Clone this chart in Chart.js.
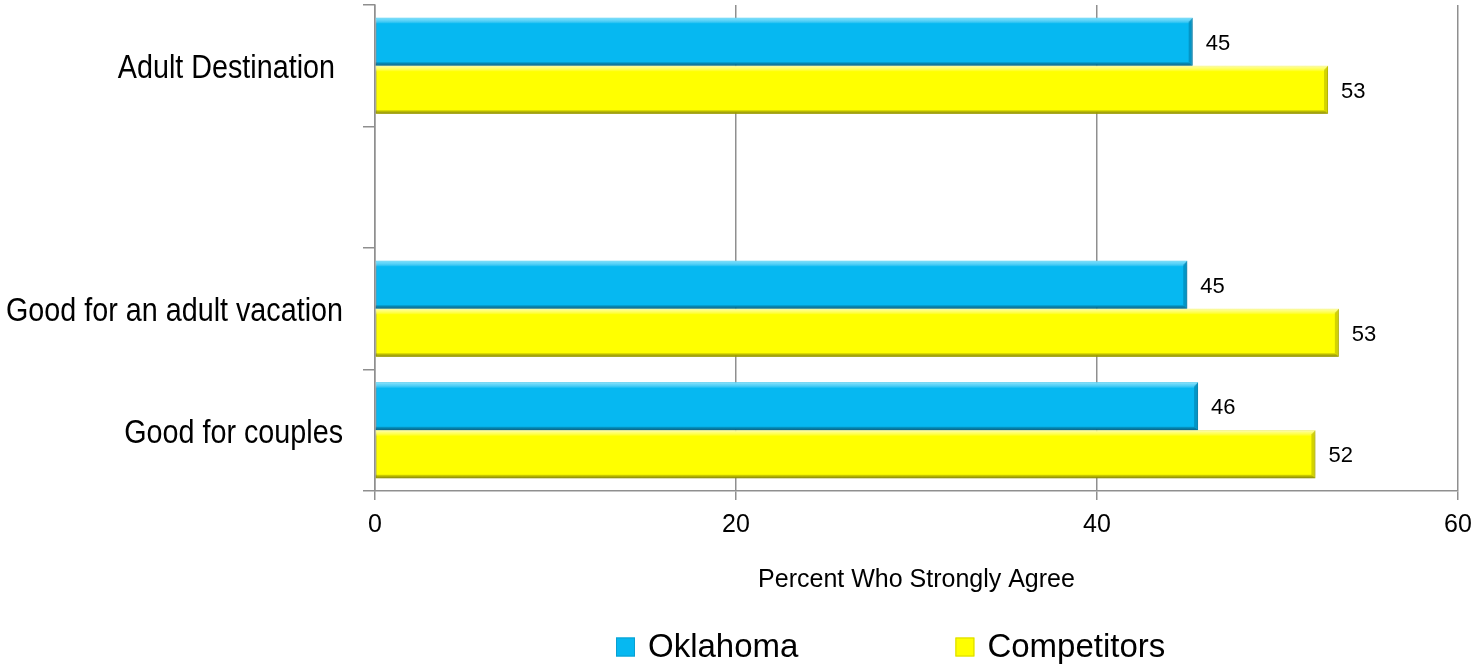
<!DOCTYPE html>
<html>
<head>
<meta charset="utf-8">
<script src="https://cdn.jsdelivr.net/npm/chart.js@4.4.1/dist/chart.umd.min.js"></script>
<style>
  html, body { margin: 0; padding: 0; background: #fff; }
  #wrap { width: 1473px; height: 665px; }
</style>
</head>
<body>
<div id="wrap"><canvas id="chart"></canvas></div>
<script>
let categories = ["Adult Destination ", "", "Good for an adult vacation", "Good for couples"];
let oklahoma = [45.3, null, 45.0, 45.6];
let competitors = [52.8, null, 53.4, 52.1];
let xTicks = [0, 20, 40, 60];

let sans = "'Liberation Sans', Arial, sans-serif";

// light / dark edge colours for the bevelled bars, one per dataset
let bevel = [
  { light: "rgba(120,225,255,0.9)", dark: "rgba(0,110,150,0.85)" },
  { light: "rgba(255,255,170,0.9)", dark: "rgba(160,160,0,0.85)" }
];

const barShadow = {
  id: "barShadow",
  beforeDatasetDraw(chart) {
    let ctx = chart.ctx;
    ctx.save();
    ctx.shadowColor = "rgba(0,0,0,0.28)";
    ctx.shadowBlur = 5;
    ctx.shadowOffsetY = 3;
  },
  afterDatasetDraw(chart) {
    chart.ctx.restore();
  }
};

const barBevel = {
  id: "barBevel",
  afterDatasetsDraw(chart) {
    let ctx = chart.ctx;
    chart.data.datasets.forEach((ds, di) => {
      let meta = chart.getDatasetMeta(di);
      meta.data.forEach((bar, i) => {
        if (ds.data[i] == null) return;
        let p = bar.getProps(["x", "y", "base", "height"], true);
        let left = p.base, right = p.x;
        let top = p.y - p.height / 2, bottom = p.y + p.height / 2;
        let e = 4;
        ctx.save();
        // top highlight
        let g = ctx.createLinearGradient(0, top, 0, top + e + 2);
        g.addColorStop(0, bevel[di].light);
        g.addColorStop(1, "rgba(255,255,255,0)");
        ctx.fillStyle = g;
        ctx.beginPath();
        ctx.moveTo(left, top);
        ctx.lineTo(right, top);
        ctx.lineTo(right - e, top + e + 2);
        ctx.lineTo(left, top + e + 2);
        ctx.fill();
        // bottom shade
        g = ctx.createLinearGradient(0, bottom - e, 0, bottom);
        g.addColorStop(0, "rgba(0,0,0,0)");
        g.addColorStop(1, bevel[di].dark);
        ctx.fillStyle = g;
        ctx.beginPath();
        ctx.moveTo(left, bottom - e);
        ctx.lineTo(right - e, bottom - e);
        ctx.lineTo(right, bottom);
        ctx.lineTo(left, bottom);
        ctx.fill();
        // right end
        ctx.fillStyle = bevel[di].dark;
        ctx.globalAlpha = 0.55;
        ctx.beginPath();
        ctx.moveTo(right - e, top + e);
        ctx.lineTo(right, top);
        ctx.lineTo(right, bottom);
        ctx.lineTo(right - e, bottom - e);
        ctx.fill();
        ctx.restore();

        // value label
        ctx.save();
        ctx.font = "22px " + sans;
        ctx.fillStyle = "#000";
        ctx.textBaseline = "middle";
        ctx.fillText(String(Math.round(ds.data[i])), right + 13, p.y + 2);
        ctx.restore();
      });
    });
  }
};

// category names in a condensed face, placed on the y scale's tick positions
const narrowLabels = {
  id: "narrowLabels",
  afterDraw(chart) {
    let ctx = chart.ctx;
    let y = chart.scales.y;
    ctx.save();
    ctx.font = "34px " + sans;
    ctx.fillStyle = "#000";
    ctx.textAlign = "right";
    ctx.textBaseline = "middle";
    chart.data.labels.forEach((lab, i) => {
      if (!lab) return;
      ctx.save();
      ctx.translate(y.right - 32, y.getPixelForTick(i) + 3);
      ctx.scale(0.845, 1);
      ctx.fillText(lab, 0, 0);
      ctx.restore();
    });
    ctx.restore();
  }
};

// legend row under the axis title
const bottomLegend = {
  id: "bottomLegend",
  afterDraw(chart) {
    let ctx = chart.ctx;
    let area = chart.chartArea;
    let x = area.left + 241;
    let yMid = chart.height - 18;
    ctx.save();
    ctx.font = "33px " + sans;
    ctx.textBaseline = "middle";
    chart.data.datasets.forEach((ds, di) => {
      ctx.fillStyle = ds.backgroundColor;
      ctx.fillRect(x, yMid - 9.5, 19, 19);
      ctx.strokeStyle = ds.borderColor;
      ctx.lineWidth = 1;
      ctx.strokeRect(x + 0.5, yMid - 9, 18, 18);
      ctx.fillStyle = "#000";
      ctx.fillText(ds.label, x + 32, yMid + 1);
      x += 32 + ctx.measureText(ds.label).width + 157;
    });
    ctx.restore();
  }
};

new Chart(document.getElementById("chart"), {
  type: "bar",
  data: {
    labels: categories,
    datasets: [
      {
        label: "Oklahoma",
        data: oklahoma,
        backgroundColor: "#06b8f1",
        borderColor: "#0a9fd0",
        borderWidth: 1,
        borderSkipped: false
      },
      {
        label: "Competitors",
        data: competitors,
        backgroundColor: "#ffff00",
        borderColor: "#d8d800",
        borderWidth: 1,
        borderSkipped: false
      }
    ]
  },
  options: {
    indexAxis: "y",
    responsive: true,
    maintainAspectRatio: false,
    animation: false,
    categoryPercentage: 0.79,
    barPercentage: 1.0,
    layout: { padding: { left: 8, right: 0, top: 5, bottom: 70 } },
    scales: {
      x: {
        min: 0,
        max: 60,
        afterBuildTicks(axis) {
          axis.ticks = xTicks.map(v => ({ value: v }));
        },
        afterFit(scale) {
          scale.paddingRight = 15;
        },
        grid: { color: "#8f8f8f", lineWidth: 1.5, tickLength: 9 },
        border: { color: "#8f8f8f", width: 1.5 },
        ticks: { color: "#000", font: { family: sans, size: 25 }, padding: 10, maxRotation: 0 },
        title: {
          display: true,
          text: "Percent Who Strongly Agree",
          color: "#000",
          font: { family: sans, size: 25 },
          padding: { top: 15, bottom: 0 }
        }
      },
      y: {
        afterFit(scale) {
          scale.width = 367;
        },
        grid: { drawOnChartArea: false, color: "#8f8f8f", lineWidth: 1.5, tickLength: 12, offset: true },
        border: { color: "#8f8f8f", width: 1.5 },
        ticks: { display: false, autoSkip: false }
      }
    },
    plugins: {
      legend: { display: false },
      tooltip: { enabled: false }
    }
  },
  plugins: [barShadow, barBevel, narrowLabels, bottomLegend]
});
</script>
</body>
</html>
